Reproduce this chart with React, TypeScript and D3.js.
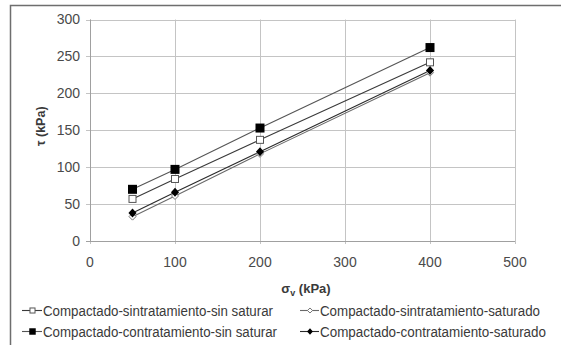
import { useEffect, useRef } from 'react'
import * as d3 from 'd3'

const sigma = [50, 100, 200, 400]
const sinTratSinSat = [57, 84, 137, 242]
const sinTratSat = [33, 61, 118, 228]
const conTratSinSat = [70, 97, 153, 262]
const conTratSat = [38, 66, 121, 231]

const seriesNames = [
  'Compactado-sintratamiento-sin saturar',
  'Compactado-sintratamiento-saturado',
  'Compactado-contratamiento-sin saturar',
  'Compactado-contratamiento-saturado',
]
const xTicks = [0, 100, 200, 300, 400, 500]
const yTicks = [0, 50, 100, 150, 200, 250, 300]

type Marker = 'openSquare' | 'openDiamond' | 'filledSquare' | 'filledDiamond'

export default function App() {
  const svgRef = useRef<SVGSVGElement>(null)

  useEffect(() => {
    if (!svgRef.current) return
    const svg = d3.select(svgRef.current)
    svg.selectAll('*').remove()

    const width = 561
    const height = 345
    const plot = { left: 90, right: 515, top: 19.5, bottom: 241 }

    const x = d3.scaleLinear().domain([0, 500]).range([plot.left, plot.right])
    const y = d3.scaleLinear().domain([0, 300]).range([plot.bottom, plot.top])

    svg.append('rect').attr('width', width).attr('height', height).attr('fill', 'white')

    // outer frame (runs off the right and bottom edges)
    svg.append('path')
      .attr('d', `M10.5,${height + 5} V5.5 H${width + 5}`)
      .attr('fill', 'none')
      .attr('stroke', '#6e6e6e')
      .attr('stroke-width', 1.5)

    // grid
    const grid = svg.append('g').attr('stroke', '#c4c4c4').attr('stroke-width', 1)
    yTicks.forEach(t => {
      grid.append('line')
        .attr('x1', plot.left - 4).attr('x2', plot.right)
        .attr('y1', Math.round(y(t)) + 0.5).attr('y2', Math.round(y(t)) + 0.5)
    })
    xTicks.forEach(t => {
      grid.append('line')
        .attr('x1', Math.round(x(t)) + 0.5).attr('x2', Math.round(x(t)) + 0.5)
        .attr('y1', plot.top).attr('y2', plot.bottom + 3)
    })
    // axes
    svg.append('line')
      .attr('x1', plot.left + 0.5).attr('x2', plot.left + 0.5)
      .attr('y1', plot.top).attr('y2', plot.bottom)
      .attr('stroke', '#a0a0a0')
    svg.append('line')
      .attr('x1', plot.left - 4).attr('x2', plot.right)
      .attr('y1', Math.round(y(0)) + 0.5).attr('y2', Math.round(y(0)) + 0.5)
      .attr('stroke', '#a0a0a0')

    const font = '"Liberation Sans", Arial, sans-serif'
    const tickColor = '#4a4a4a'

    yTicks.forEach(t => {
      svg.append('text')
        .attr('x', 80).attr('y', y(t))
        .attr('dy', '0.35em')
        .attr('text-anchor', 'end')
        .attr('font-family', font).attr('font-size', 14)
        .attr('fill', tickColor)
        .text(t)
    })
    xTicks.forEach(t => {
      svg.append('text')
        .attr('x', x(t)).attr('y', 262)
        .attr('dy', '0.35em')
        .attr('text-anchor', 'middle')
        .attr('font-family', font).attr('font-size', 14)
        .attr('fill', tickColor)
        .text(t)
    })

    // axis titles
    svg.append('text')
      .attr('transform', `translate(45,${(plot.top + plot.bottom) / 2 - 4}) rotate(-90)`)
      .attr('text-anchor', 'middle')
      .attr('font-family', font).attr('font-size', 12.5).attr('font-weight', 'bold')
      .attr('fill', '#3a3a3a')
      .text('τ (kPa)')

    const xLab = svg.append('text')
      .attr('x', 306).attr('y', 293)
      .attr('text-anchor', 'middle')
      .attr('font-family', font).attr('font-size', 13).attr('font-weight', 'bold')
      .attr('fill', '#3a3a3a')
    xLab.append('tspan').text('σ')
    xLab.append('tspan').attr('font-size', 9).attr('dy', 3).text('v')
    xLab.append('tspan').attr('dy', -3).text(' (kPa)')

    const drawMarker = (g: d3.Selection<SVGGElement, unknown, null, undefined>, cx: number, cy: number, m: Marker, k = 1) => {
      if (m === 'openSquare') {
        const h = 3.5 * k
        g.append('rect').attr('x', cx - h).attr('y', cy - h).attr('width', 2 * h).attr('height', 2 * h)
          .attr('fill', 'white').attr('stroke', '#555').attr('stroke-width', 1)
      } else if (m === 'filledSquare') {
        const h = 4.5 * k
        g.append('rect').attr('x', cx - h).attr('y', cy - h).attr('width', 2 * h).attr('height', 2 * h)
          .attr('fill', '#000')
      } else if (m === 'openDiamond') {
        const h = 3.5 * k
        g.append('path').attr('d', `M${cx},${cy - h}L${cx + h},${cy}L${cx},${cy + h}L${cx - h},${cy}Z`)
          .attr('fill', 'white').attr('stroke', '#777').attr('stroke-width', 1)
      } else {
        const h = 4.5 * k
        g.append('path').attr('d', `M${cx},${cy - h}L${cx + h * 0.9},${cy}L${cx},${cy + h}L${cx - h * 0.9},${cy}Z`)
          .attr('fill', '#000')
      }
    }

    const series: { values: number[]; marker: Marker; stroke: string }[] = [
      { values: sinTratSinSat, marker: 'openSquare', stroke: '#3a3a3a' },
      { values: sinTratSat, marker: 'openDiamond', stroke: '#6a6a6a' },
      { values: conTratSinSat, marker: 'filledSquare', stroke: '#555' },
      { values: conTratSat, marker: 'filledDiamond', stroke: '#2a2a2a' },
    ]

    const line = d3.line<number>().x((_, i) => x(sigma[i])).y(d => y(d))
    series.forEach(s => {
      svg.append('path').attr('d', line(s.values)).attr('fill', 'none')
        .attr('stroke', s.stroke).attr('stroke-width', 1.1)
    })
    series.forEach(s => {
      const g = svg.append('g')
      s.values.forEach((v, i) => drawMarker(g, x(sigma[i]), y(v), s.marker))
    })

    // legend
    const legendPos = [
      { lx: 22, tx: 43, ty: 310.5, w: 230 },
      { lx: 300, tx: 320, ty: 310.5, w: 220 },
      { lx: 22, tx: 43, ty: 331.5, w: 234 },
      { lx: 300, tx: 320, ty: 331.5, w: 226 },
    ]
    series.forEach((s, i) => {
      const p = legendPos[i]
      const g = svg.append('g')
      g.append('line').attr('x1', p.lx).attr('x2', p.tx - 1).attr('y1', p.ty).attr('y2', p.ty)
        .attr('stroke', s.stroke).attr('stroke-width', 1.1)
      drawMarker(g, (p.lx + p.tx) / 2, p.ty, s.marker, 0.72)
      g.append('text')
        .attr('x', p.tx).attr('y', p.ty).attr('dy', '0.36em')
        .attr('font-family', font).attr('font-size', 14)
        .attr('fill', '#3a3a3a')
        .attr('textLength', p.w).attr('lengthAdjust', 'spacingAndGlyphs')
        .text(seriesNames[i])
    })
  }, [])

  return (
    <svg
      ref={svgRef}
      width={561}
      height={345}
      style={{ position: 'absolute', left: 0, top: 0 }}
    />
  )
}
